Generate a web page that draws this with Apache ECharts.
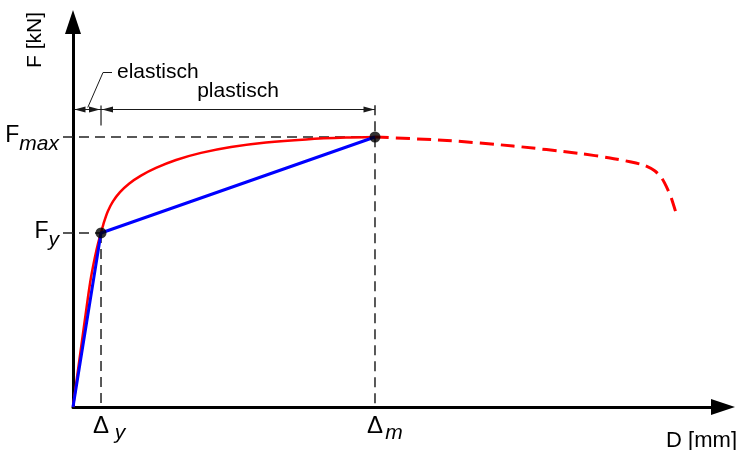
<!DOCTYPE html>
<html>
<head>
<meta charset="utf-8">
<script src="https://cdn.jsdelivr.net/npm/echarts@6/dist/echarts.min.js"></script>
<style>
  html, body { margin: 0; padding: 0; background: #ffffff; }
  #chart { width: 737px; height: 450px; }
</style>
</head>
<body>
<div id="chart"></div>
<script>
// Force–displacement diagram: measured envelope (red) and its bilinear idealisation (blue)

// axis ranges (relative units, no numeric ticks are drawn)
const dAxisMax = 100;
const fAxisMax = 100;

// characteristic points
const deltaY = 4.31;     // yield displacement
const forceY = 45.2;     // yield force
const deltaM = 46.46;    // displacement at peak force
const forceMax = 70.13;  // peak force

// envelope up to the peak
const envD = [0, 1.15, 2.31, 2.78, 3.38, 3.87, deltaY, 4.77, 5.38, 6.15, 7.23, 8.62, 10.46, 12.77,
              15.85, 19.69, 24.31, 29.69, 35.85, 42.0, deltaM];
const envF = [0, 14.29, 28.57, 33.77, 38.96, 42.60, forceY, 48.0, 50.9, 53.4, 55.8, 58.0, 60.1, 62.1,
              64.16, 66.00, 67.53, 68.70, 69.51, 69.98, forceMax];

// softening branch beyond the peak
const postD = [deltaM, 57.54, 67.69, 78.0, 82.62, 85.69, 88.0, 89.54, 90.62, 91.54, 92.15, 92.77];
const postF = [forceMax, 69.22, 67.79, 65.84, 64.68, 63.69, 62.73, 61.30, 59.35, 56.36, 53.77, 50.39];

// bilinear idealisation
const biD = [0, deltaY, deltaM];
const biF = [0, forceY, forceMax];

// axis tick labels: [main symbol, index]
const fTickValues = [forceY, forceMax];
const fTickNames = [['F', 'y'], ['F', 'max']];
const dTickValues = [deltaY, deltaM];
const dTickNames = [['\u0394', 'y'], ['\u0394', 'm']];

// annotation texts
const axisTitleF = 'F [kN]';
const axisTitleD = 'D [mm]';
const elasticText = 'elastisch';
const plasticText = 'plastisch';

// level of the dimension line (force units)
const dimLevel = 77.4;
const dimTop = 78.4;

const FONT = "'Liberation Sans', Arial, Helvetica, sans-serif";
const INK = '#1a1a1a';

const zip = (xs, ys) => xs.map((x, i) => [x, ys[i]]);

const chart = echarts.init(document.getElementById('chart'), null, { renderer: 'canvas' });

function labelFor(values, names, v) {
  const i = values.findIndex(t => Math.abs(t - v) < 1e-6);
  return i < 0 ? '' : names[i];
}

const guideStyle = { color: '#222222', width: 1.5, type: [10, 6] };

chart.setOption({
  animation: false,
  backgroundColor: '#ffffff',
  grid: { left: 73, top: 22, right: 14, bottom: 43, outerBoundsMode: 'none', containLabel: false },
  xAxis: {
    type: 'value', min: 0, max: dAxisMax,
    splitLine: { show: false },
    axisLine: {
      show: true, onZero: false,
      symbol: ['none', 'triangle'], symbolSize: [16, 24],
      lineStyle: { color: '#000000', width: 3 }
    },
    axisTick: { show: false },
    axisLabel: {
      customValues: dTickValues,
      margin: 10,
      formatter: v => {
        const n = labelFor(dTickValues, dTickNames, v);
        return n ? '{g| }{D|' + n[0] + '}{s|' + n[1] + '}' : '';
      },
      rich: {
        g: { width: 21, fontSize: 21, lineHeight: 21, fontFamily: FONT },
        D: { fontSize: 24, lineHeight: 24, fontFamily: FONT, color: '#000', padding: [0, 0, 5, 0] },
        s: { width: 20, align: 'left', fontSize: 21, lineHeight: 21, fontFamily: FONT, fontStyle: 'italic', color: '#000', padding: [8, 0, 0, 1] }
      }
    }
  },
  yAxis: {
    type: 'value', min: 0, max: fAxisMax,
    splitLine: { show: false },
    axisLine: {
      show: true, onZero: false,
      symbol: ['none', 'triangle'], symbolSize: [16, 24],
      lineStyle: { color: '#000000', width: 3 }
    },
    axisTick: {
      show: true, customValues: fTickValues, length: 10, inside: false,
      lineStyle: { color: '#222222', width: 1.5 }
    },
    axisLabel: {
      customValues: fTickValues,
      margin: 14,
      formatter: v => {
        const n = labelFor(fTickValues, fTickNames, v);
        return n ? '{F|' + n[0] + '}{s|' + n[1] + '}' : '';
      },
      rich: {
        F: { fontSize: 23, lineHeight: 23, fontFamily: FONT, color: '#000', padding: [2, 0, 4, 0] },
        s: { fontSize: 21, lineHeight: 21, fontFamily: FONT, fontStyle: 'italic', color: '#000', padding: [14, 0, 0, 0] }
      }
    }
  },
  series: [
    // dashed guide lines to the characteristic points
    { type: 'line', silent: true, symbol: 'none', z: 1, clip: false,
      data: [[0, forceMax], [deltaM, forceMax]],
      lineStyle: Object.assign({ dashOffset: 10 }, guideStyle) },
    { type: 'line', silent: true, symbol: 'none', z: 1, clip: false,
      data: [[0, forceY], [deltaY, forceY]],
      lineStyle: Object.assign({ dashOffset: 10 }, guideStyle) },
    { type: 'line', silent: true, symbol: 'none', z: 1, clip: false,
      data: [[deltaY, forceY], [deltaY, 0]],
      lineStyle: guideStyle },
    { type: 'line', silent: true, symbol: 'none', z: 1, clip: false,
      data: [[deltaM, dimTop], [deltaM, 0]],
      lineStyle: guideStyle },
    // envelope up to the peak
    { type: 'line', silent: true, symbol: 'none', z: 3,
      data: zip(envD, envF), smooth: 0.25,
      lineStyle: { color: '#ff0000', width: 2.5 } },
    // softening branch
    { type: 'line', silent: true, symbol: 'none', z: 3,
      data: zip(postD, postF), smooth: 0.25,
      lineStyle: { color: '#ff0000', width: 3, type: [14, 7] } },
    // bilinear idealisation
    { type: 'line', silent: true, symbol: 'none', z: 4,
      data: zip(biD, biF),
      lineStyle: { color: '#0000ff', width: 3 } },
    // yield and peak points
    { type: 'scatter', silent: true, z: 5,
      data: [[deltaY, forceY], [deltaM, forceMax]],
      symbol: 'circle', symbolSize: 11,
      itemStyle: { color: '#000000' } }
  ]
});

// dimension chain "elastisch / plastisch" and axis titles
function drawAnnotations() {
  const p = (d, f) => chart.convertToPixel({ gridIndex: 0 }, [d, f]);
  const o = p(0, 0);
  const a = p(deltaY, dimLevel);
  const b = p(deltaM, dimLevel);
  const yDim = Math.round(a[1]) + 0.5;
  const x0 = o[0] + 1.5;
  const headLen = 11, headHalf = 3;
  const head = (tx, dir) => ({
    type: 'polygon', silent: true,
    shape: { points: [[tx, yDim], [tx - dir * headLen, yDim - headHalf], [tx - dir * headLen, yDim + headHalf]] },
    style: { fill: INK }
  });
  const gapX = 1;
  const xA = a[0];
  const xB = b[0];
  const leaderStart = [(x0 + xA) / 2, yDim - 2];
  const leaderKnee = [xA + 2, yDim - 37];
  const leaderEnd = [xA + 11, yDim - 37];

  chart.setOption({
    graphic: [
      { type: 'line', silent: true, shape: { x1: x0, y1: yDim, x2: xB, y2: yDim }, style: { stroke: INK, lineWidth: 1 } },
      head(x0, -1),
      head(xA - gapX, 1),
      head(xA + gapX, -1),
      head(xB - 0.5, 1),
      { type: 'line', silent: true, shape: { x1: xA, y1: yDim - 4, x2: xA, y2: yDim + 16 }, style: { stroke: INK, lineWidth: 1.2 } },
      { type: 'polyline', silent: true, shape: { points: [leaderStart, leaderKnee, leaderEnd] }, style: { stroke: INK, lineWidth: 1, fill: null } },
      { type: 'text', silent: true, x: leaderEnd[0] + 5, y: leaderEnd[1],
        style: { text: elasticText, font: '21px ' + FONT, fill: '#000', align: 'left', verticalAlign: 'middle' } },
      { type: 'text', silent: true, x: (xA + xB) / 2, y: yDim - 18,
        style: { text: plasticText, font: '21px ' + FONT, fill: '#000', align: 'center', verticalAlign: 'middle' } },
      { type: 'text', silent: true, x: 35, y: 40, rotation: Math.PI / 2,
        style: { text: axisTitleF, font: '21px ' + FONT, fill: '#000', align: 'center', verticalAlign: 'middle' } },
      { type: 'text', silent: true, x: 737, y: 441,
        style: { text: axisTitleD, font: '22px ' + FONT, fill: '#000', align: 'right', verticalAlign: 'middle' } }
    ]
  });
}
drawAnnotations();
</script>
</body>
</html>
